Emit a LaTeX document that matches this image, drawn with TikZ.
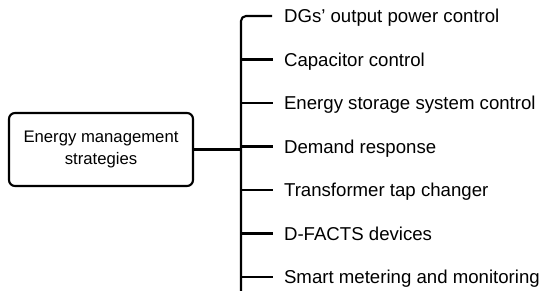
\documentclass[tikz,border=0pt]{standalone}
\usepackage{fontspec}
\setmainfont{Liberation Sans}
\usetikzlibrary{positioning}
\tikzset{
  every path/.style = {line width = 1.2pt},
  root/.style = {draw, rounded corners = 0.12cm, align = center,
    minimum width = 3.68cm, minimum height = 1.46cm, inner sep = 2pt,
    font = \fontsize{9.5}{12}\selectfont},
  measure/.style = {inner xsep = 0.22cm, inner ysep = 0pt, anchor = west,
    text height = 7.6pt, text depth = 0pt,
    font = \fontsize{10.6}{13}\selectfont},
  branch/.style = {line cap = rect}
}
\begin{document}
\begin{tikzpicture}

\useasboundingbox (0,0) rectangle (11,-5.96);

\node [root] (ems) at (2.02,-2.99) {Energy management\\strategies};

\node [measure] (m1) at (5.44,-0.32) {DGs' output power control};
\node [measure] (m2) [below = 0.87cm of m1.west, anchor = west] {Capacitor control};
\node [measure] (m3) [below = 0.87cm of m2.west, anchor = west] {Energy storage system control};
\node [measure] (m4) [below = 0.87cm of m3.west, anchor = west] {Demand response};
\node [measure] (m5) [below = 0.87cm of m4.west, anchor = west] {Transformer tap changer};
\node [measure] (m6) [below = 0.87cm of m5.west, anchor = west] {D-FACTS devices};
\node [measure] (m7) [below = 0.87cm of m6.west, anchor = west] {Smart metering and monitoring};

\coordinate (bus) at (4.82,-5.82);

% vertical bus with the top branch
\draw [rounded corners = 0.1cm] (m1.west) -| (bus);

% box to bus
\draw (ems.east) -- (ems.east -| bus);

\draw [branch] (m2.west -| bus) -- (m2.west);
\draw [branch] (m3.west -| bus) -- (m3.west);
\draw [branch] (m4.west -| bus) -- (m4.west);
\draw [branch] (m5.west -| bus) -- (m5.west);
\draw [branch] (m6.west -| bus) -- (m6.west);
\draw [branch] (m7.west -| bus) -- (m7.west);

\end{tikzpicture}
\end{document}
